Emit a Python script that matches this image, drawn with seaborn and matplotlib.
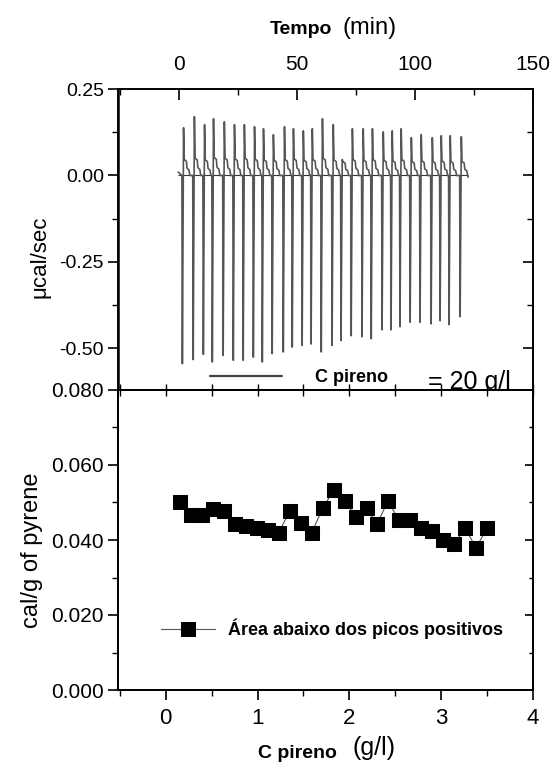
import matplotlib
matplotlib.use("Agg")
import matplotlib.pyplot as plt
import seaborn as sns
import pandas as pd
from matplotlib.ticker import MultipleLocator, FuncFormatter, NullFormatter
from matplotlib.lines import Line2D

# ---------------- data ----------------
# top panel: ITC thermogram (one entry per injection)
inj_time = [1.3, 5.9, 10.2, 14.0, 18.6, 22.9, 27.1, 31.4, 35.2, 39.4, 44.1, 47.9,
            52.1, 55.9, 60.2, 64.8, 68.6, 72.9, 77.5, 81.4, 86.0, 89.8, 93.6, 97.9,
            102.1, 106.8, 110.6, 114.4, 119.1]
neg_peak = [-0.544, -0.532, -0.517, -0.539, -0.520, -0.534, -0.534, -0.525, -0.539,
            -0.515, -0.510, -0.496, -0.491, -0.487, -0.510, -0.491, -0.477, -0.463,
            -0.466, -0.472, -0.446, -0.446, -0.437, -0.424, -0.424, -0.429, -0.420,
            -0.431, -0.408]
pos_peak = [0.138, 0.170, 0.147, 0.164, 0.155, 0.147, 0.147, 0.141, 0.135, 0.118,
            0.141, 0.135, 0.129, 0.135, 0.164, 0.147, 0.046, 0.135, 0.135, 0.135,
            0.126, 0.129, 0.135, 0.109, 0.118, 0.109, 0.115, 0.115, 0.112]
plateau = [0.046, 0.050, 0.045, 0.052, 0.050, 0.048, 0.050, 0.047, 0.045, 0.044,
           0.046, 0.048, 0.044, 0.046, 0.050, 0.045, 0.040, 0.046, 0.044, 0.046,
           0.044, 0.042, 0.046, 0.040, 0.042, 0.040, 0.042, 0.040, 0.040]
trace_start = (-0.5, 0.01)
trace_end = (122.5, -0.005)
baseline_span = (-0.5, 122.5)

# bottom panel: integrated heat
conc = [0.15, 0.27, 0.39, 0.51, 0.63, 0.75, 0.87, 0.99, 1.11, 1.23, 1.35, 1.47,
        1.59, 1.71, 1.83, 1.95, 2.07, 2.19, 2.30, 2.42, 2.54, 2.66, 2.78, 2.90,
        3.02, 3.14, 3.26, 3.38, 3.50]
area = [0.0502, 0.0468, 0.0468, 0.0482, 0.0478, 0.0444, 0.0437, 0.0431, 0.0427,
        0.0420, 0.0476, 0.0445, 0.0420, 0.0485, 0.0533, 0.0504, 0.0462, 0.0485,
        0.0442, 0.0504, 0.0453, 0.0453, 0.0431, 0.0424, 0.0400, 0.0389, 0.0431,
        0.0380, 0.0431]

# ---------------- style ----------------
sns.set_theme(style="ticks", rc={
    "axes.edgecolor": "black", "xtick.color": "black", "ytick.color": "black",
    "text.color": "black", "axes.labelcolor": "black",
})
plt.rcParams["font.family"] = ["Liberation Sans", "DejaVu Sans"]

W, H = 554, 775
fig = plt.figure(figsize=(W / 100, H / 100), dpi=100)


def fx(px):
    return px / W


def fy(py):
    return 1 - py / H


L, R = 118, 533
ax1 = fig.add_axes([fx(L), fy(390), fx(R) - fx(L), fy(89) - fy(390)])
ax2 = fig.add_axes([fx(L), fy(690), fx(R) - fx(L), fy(390) - fy(690)])

# ---------------- top panel ----------------
t_pts, y_pts = [trace_start[0]], [trace_start[1]]
for t, n, p, q in zip(inj_time, neg_peak, pos_peak, plateau):
    t_pts += [t - 0.2, t, t + 0.5, t + 0.8, t + 1.7, t + 2.0, t + 2.8, t + 3.2]
    y_pts += [0.0, n, p, q, q * 0.9, q * 0.45, q * 0.35, 0.0]
t_pts.append(trace_end[0])
y_pts.append(trace_end[1])
thermo = pd.DataFrame({"t": t_pts, "y": y_pts})

ax1.hlines(0, baseline_span[0], baseline_span[1], color="#333333", lw=0.8)
sns.lineplot(data=thermo, x="t", y="y", sort=False, estimator=None, ax=ax1,
             color="#555555", lw=1.2)

ax1.set_xlim(-26, 150)
ax1.set_ylim(-0.62, 0.25)
ax1.set_xlabel("")
ax1.set_ylabel("")
ax1.xaxis.tick_top()
ax1.xaxis.set_major_locator(MultipleLocator(50))
ax1.xaxis.set_minor_locator(MultipleLocator(25))
ax1.yaxis.set_major_locator(MultipleLocator(0.25))
ax1.yaxis.set_minor_locator(MultipleLocator(0.125))
ax1.yaxis.set_major_formatter(FuncFormatter(lambda v, p: "0.00" if abs(v) < 1e-9 else f"{v:.2f}"))
ax1.tick_params(axis="x", which="both", direction="in", top=True, bottom=False,
                labeltop=True, labelbottom=False, labelsize=15, pad=11)
ax1.tick_params(axis="x", which="major", length=8, width=1.2)
ax1.tick_params(axis="x", which="minor", length=4, width=1.0)
ax1.tick_params(axis="y", which="both", direction="out", left=True, right=False,
                labelsize=14, pad=3)
ax1.tick_params(axis="y", which="major", length=7, width=1.2)
ax1.tick_params(axis="y", which="minor", length=4, width=1.0)
for s in ax1.spines.values():
    s.set_visible(True)
    s.set_linewidth(1.2)
ax1.spines["left"].set_linewidth(1.8)

ax1r = ax1.twinx()
ax1r.set_ylim(ax1.get_ylim())
ax1r.yaxis.set_major_locator(MultipleLocator(0.25))
ax1r.yaxis.set_minor_locator(MultipleLocator(0.125))
ax1r.yaxis.set_major_formatter(NullFormatter())
ax1r.tick_params(axis="y", which="both", direction="in", right=True, labelright=False)
ax1r.tick_params(axis="y", which="major", length=7, width=1.2)
ax1r.tick_params(axis="y", which="minor", length=4, width=1.0)
for s in ax1r.spines.values():
    s.set_linewidth(1.2)

ax1.legend(handles=[Line2D([], [], color="#444444", lw=1.6)], labels=["C pireno"],
           loc="center left", bbox_to_anchor=((210 - L) / (R - L), 0.04),
           frameon=False, borderpad=0, borderaxespad=0, handlelength=4.0,
           handletextpad=1.8, prop={"weight": "bold", "size": 13})
ax1.text((428 - L) / (R - L), 0.028, "= 20 g/l", transform=ax1.transAxes,
         ha="left", va="center", fontsize=18)

# ---------------- bottom panel ----------------
sns.lineplot(x=conc, y=area, ax=ax2, sort=False, estimator=None, color="#555555",
             lw=0.8, marker="s", markersize=9.5, markerfacecolor="black",
             markeredgecolor="black", label="Área abaixo dos picos positivos")

ax2.set_xlim(-0.52, 4)
ax2.set_ylim(0, 0.08)
ax2.set_xlabel("")
ax2.set_ylabel("")
ax2.xaxis.set_major_locator(MultipleLocator(1))
ax2.xaxis.set_minor_locator(MultipleLocator(0.5))
ax2.yaxis.set_major_locator(MultipleLocator(0.02))
ax2.yaxis.set_minor_locator(MultipleLocator(0.01))
ax2.yaxis.set_major_formatter(FuncFormatter(lambda v, p: f"{v:.3f}"))
ax2.xaxis.set_major_formatter(FuncFormatter(lambda v, p: f"{v:.0f}"))
ax2.tick_params(axis="x", which="both", direction="out", bottom=True, top=False,
                labelsize=16, pad=6)
ax2.tick_params(axis="x", which="major", length=7, width=1.2)
ax2.tick_params(axis="x", which="minor", length=4, width=1.0)
ax2.tick_params(axis="y", which="both", direction="out", left=True, right=False,
                labelsize=15, pad=3)
ax2.tick_params(axis="y", which="major", length=7, width=1.2)
ax2.tick_params(axis="y", which="minor", length=4, width=1.0)
for s in ax2.spines.values():
    s.set_visible(True)
    s.set_linewidth(1.2)

ax2t = ax2.twiny()
ax2t.set_xlim(ax2.get_xlim())
ax2t.xaxis.set_major_locator(MultipleLocator(0.5))
ax2t.xaxis.set_major_formatter(NullFormatter())
ax2t.tick_params(axis="x", which="both", direction="inout", top=True, labeltop=False,
                 length=8, width=1.0)
ax2r = ax2.twinx()
ax2r.set_ylim(ax2.get_ylim())
ax2r.yaxis.set_major_locator(MultipleLocator(0.02))
ax2r.yaxis.set_minor_locator(MultipleLocator(0.01))
ax2r.yaxis.set_major_formatter(NullFormatter())
ax2r.tick_params(axis="y", which="both", direction="in", right=True, labelright=False)
ax2r.tick_params(axis="y", which="major", length=6, width=1.2)
ax2r.tick_params(axis="y", which="minor", length=3, width=1.0)
for a in (ax2t, ax2r):
    for s in a.spines.values():
        s.set_linewidth(1.2)

ax2.legend(loc="center left", bbox_to_anchor=((161 - L) / (R - L), (690 - 629) / 300),
           frameon=False, borderpad=0, borderaxespad=0, handlelength=3.0,
           handletextpad=0.7, prop={"weight": "bold", "size": 13})

# ---------------- labels ----------------
fig.text(fx(332), fy(30), "Tempo", ha="right", va="center", fontsize=14, fontweight="bold")
fig.text(fx(342), fy(28), "(min)", ha="left", va="center", fontsize=17)
fig.text(fx(337), fy(753), "C pireno", ha="right", va="center", fontsize=14, fontweight="bold")
fig.text(fx(352), fy(748), "(g/l)", ha="left", va="center", fontsize=18)
fig.text(fx(40), fy(257), "μcal/sec", rotation=90, ha="center", va="center", fontsize=16)
fig.text(fx(32), fy(550), "cal/g of pyrene", rotation=90, ha="center", va="center", fontsize=17)

fig.savefig("out.png", dpi=100)
